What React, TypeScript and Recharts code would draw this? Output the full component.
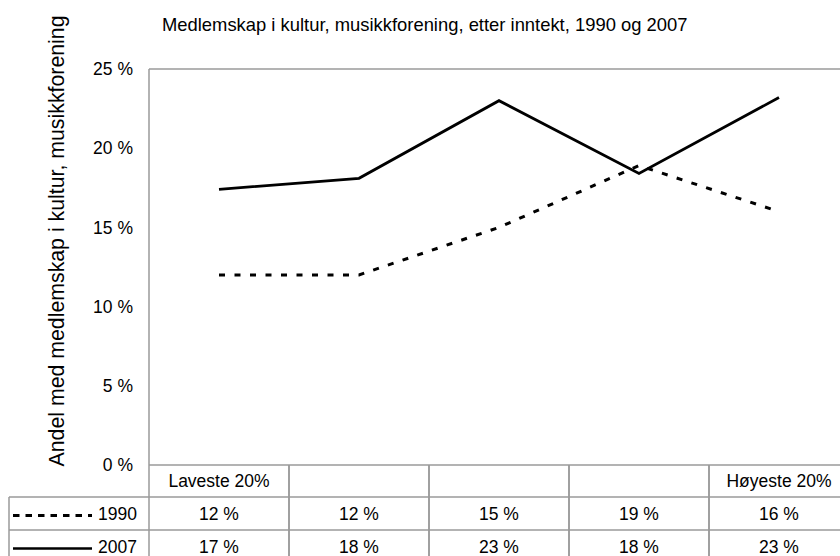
import { Line, LineChart, ReferenceLine, XAxis, YAxis } from "recharts";

const FONT = "'Liberation Sans', Arial, sans-serif";
const GRID = "#9a9a9a";

// income quintiles (only the outer two carry a label in the table header)
const quintiles = ["q1", "q2", "q3", "q4", "q5"];
const headerLabels = ["Laveste 20%", "", "", "", "Høyeste 20%"];
const seriesNames = ["1990", "2007"];
const values1990 = [12, 12, 15, 18.9, 16];
const values2007 = [17.4, 18.1, 23.0, 18.4, 23.2];
const yTicks = [0, 5, 10, 15, 20, 25];

const rows = quintiles.map((q, i) => ({ q, v1990: values1990[i], v2007: values2007[i] }));

const CELL_W = 140;
const HEAD_H = 32;
const ROW_H = 33;

function TableTick(props: any) {
  const { x, y, index } = props;
  const left = x - CELL_W / 2;
  const r1 = y + HEAD_H;
  const r2 = r1 + ROW_H;
  const txt = { fontFamily: FONT, fontSize: 17.5, fill: "#000", dominantBaseline: "central" as const };
  return (
    <g>
      <line x1={left} x2={left} y1={y} y2={y + 100} stroke={GRID} strokeWidth={1.5} />
      <line x1={left + CELL_W} x2={left + CELL_W} y1={y} y2={y + 100} stroke={GRID} strokeWidth={1.5} />
      <line x1={left} x2={left + CELL_W} y1={r1} y2={r1} stroke={GRID} strokeWidth={1.5} />
      <line x1={left} x2={left + CELL_W} y1={r2} y2={r2} stroke={GRID} strokeWidth={1.5} />
      <text {...txt} x={x} y={y + HEAD_H / 2} textAnchor="middle">{headerLabels[index]}</text>
      <text {...txt} x={x} y={r1 + ROW_H / 2} textAnchor="middle">{`${Math.round(values1990[index])} %`}</text>
      <text {...txt} x={x} y={r2 + ROW_H / 2} textAnchor="middle">{`${Math.round(values2007[index])} %`}</text>
      {index === 0 && (
        <g>
          <line x1={9} x2={left} y1={r1} y2={r1} stroke={GRID} strokeWidth={1.5} />
          <line x1={9} x2={left} y1={r2} y2={r2} stroke={GRID} strokeWidth={1.5} />
          <line x1={9} x2={9} y1={r1} y2={y + 100} stroke={GRID} strokeWidth={1.5} />
          <line x1={13} x2={92} y1={r1 + ROW_H / 2 + 2} y2={r1 + ROW_H / 2 + 2} stroke="#000" strokeWidth={3} strokeDasharray="6.5 6" />
          <line x1={13} x2={92} y1={r2 + ROW_H / 2 + 2} y2={r2 + ROW_H / 2 + 2} stroke="#000" strokeWidth={2.5} />
          <text {...txt} x={left - 12} y={r1 + ROW_H / 2} textAnchor="end">{seriesNames[0]}</text>
          <text {...txt} x={left - 12} y={r2 + ROW_H / 2} textAnchor="end">{seriesNames[1]}</text>
        </g>
      )}
    </g>
  );
}

export default function App() {
  return (
    <div style={{ position: "absolute", left: 0, top: 0, width: 840, height: 556, overflow: "hidden", background: "#fff", fontFamily: FONT }}>
      <div style={{ position: "absolute", left: 162, top: 14, fontSize: 18.4, whiteSpace: "nowrap", color: "#000" }}>
        Medlemskap i kultur, musikkforening, etter inntekt, 1990 og 2007
      </div>
      <div
        style={{
          position: "absolute",
          left: 57,
          top: 241,
          transform: "translate(-50%, -50%) rotate(-90deg)",
          fontSize: 21.3,
          whiteSpace: "nowrap",
          color: "#000",
        }}
      >
        Andel med medlemskap i kultur, musikkforening
      </div>
      <LineChart width={849} height={556} data={rows} margin={{ top: 69, right: 0, left: 0, bottom: 0 }}>
        <XAxis
          dataKey="q"
          height={91}
          padding={{ left: CELL_W / 2, right: CELL_W / 2 }}
          axisLine={{ stroke: GRID, strokeWidth: 1.5 }}
          tickLine={false}
          tickSize={0}
          tickMargin={0}
          interval={0}
          tick={<TableTick />}
        />
        <YAxis
          width={149}
          domain={[0, 25]}
          ticks={yTicks}
          tickFormatter={(v) => `${v} %`}
          axisLine={{ stroke: GRID, strokeWidth: 1.5 }}
          tickLine={false}
          tickSize={0}
          tickMargin={16}
          tick={{ fill: "#000", fontSize: 17.5, fontFamily: FONT }}
        />
        <ReferenceLine y={25} stroke={GRID} strokeWidth={1.5} />
        <Line dataKey="v1990" stroke="#000" strokeWidth={3} strokeDasharray="6 9.5" dot={false} isAnimationActive={false} />
        <Line dataKey="v2007" stroke="#000" strokeWidth={2.75} dot={false} isAnimationActive={false} />
      </LineChart>
    </div>
  );
}
